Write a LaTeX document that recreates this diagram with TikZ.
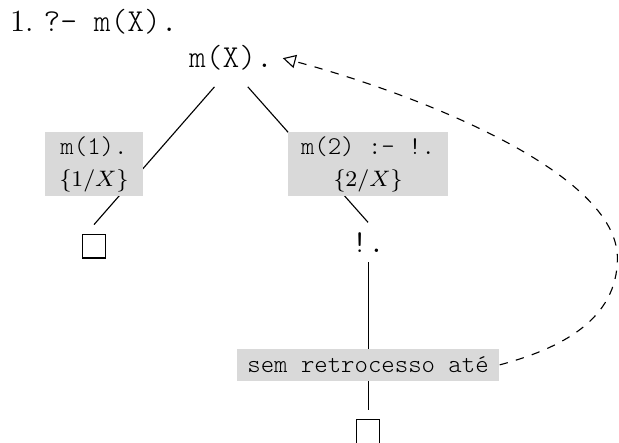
\documentclass[tikz,border=0pt]{standalone}
\usepackage{fontspec}
\setmonofont[Scale=1.14]{Latin Modern Mono Light}
\usepackage{amsmath}
\usetikzlibrary{arrows.meta,positioning}

\begin{document}
\begin{tikzpicture}[
  goal/.style={font=\ttfamily},
  lbl/.style={fill=black!15,align=center,font=\footnotesize\ttfamily,inner sep=1pt},
  leaf/.style={draw,minimum size=8.4pt,inner sep=0pt,outer sep=3.5pt},
  br/.style={shorten <=9pt},
  bk/.style={dashed,-{Triangle[open,length=4.6pt,width=4.8pt]}}
]
\useasboundingbox (0,0) rectangle (7.77,-5.56);
\node[anchor=base west,inner sep=0pt,font=\fontsize{11}{13}\selectfont] (title) at (0.12,-0.40)
  {1.~\texttt{\normalsize ?- m(X).}};
\node[goal] (root) at (2.90,-0.73) {m(X).};
\node[leaf] (l1) at (1.18,-3.09) {};
\node[goal] (cut) at (4.62,-3.04) {!.};
\node[leaf] (l2) at (4.62,-5.415) {};
\coordinate (turn) at (7.75,-3.24);
% branches first, the labels cover them
\draw[br] (root.base) -- (l1.north);
\draw[br] (root.base) -- (cut.north);
\draw (cut) -- (l2);
\node[lbl,minimum width=35pt,minimum height=22.8pt] (b1) at (l1 |- 0,-2.06) {m(1).\\[2pt]$\{1/X\}$};
\node[lbl,minimum width=57pt,minimum height=22.8pt] (b2) at (cut |- b1) {m(2) :- !.\\[2pt]$\{2/X\}$};
\node[lbl,minimum width=93.6pt,minimum height=11.4pt] (stop) at (4.62,-4.58) {sem retrocesso até};
% back to the goal
\draw[bk] (stop.east) to[out=15,in=-90] (turn)
  .. controls +(0,1.07) and +(1.72,-0.46) .. (root.east);
\end{tikzpicture}
\end{document}
